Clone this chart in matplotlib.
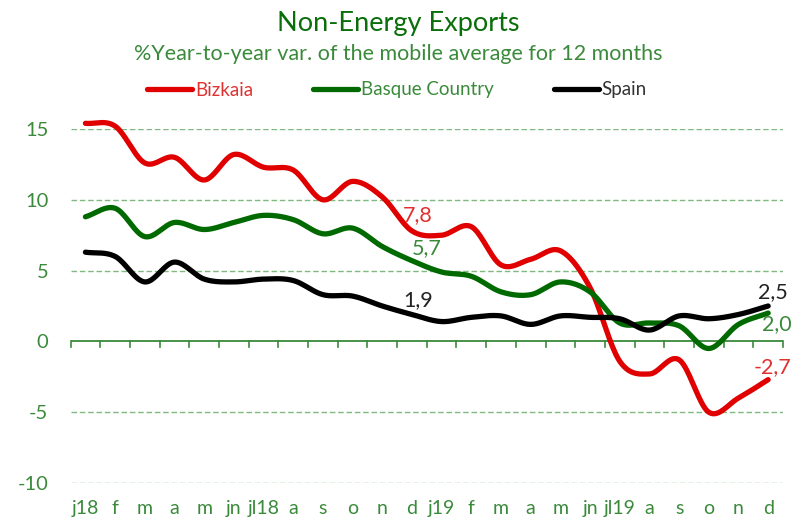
import numpy as np
import matplotlib
matplotlib.use('Agg')
import matplotlib.pyplot as plt

plt.rcParams['font.family'] = ['Lato', 'DejaVu Sans']

# Chart data
months = ['j18', 'f', 'm', 'a', 'm', 'jn', 'jl18', 'a', 's', 'o', 'n', 'd',
          'j19', 'f', 'm', 'a', 'm', 'jn', 'jl19', 'a', 's', 'o', 'n', 'd']
bizkaia = [15.4, 15.2, 12.6, 13.0, 11.4, 13.2, 12.3, 12.1, 10.0, 11.3, 10.2, 7.8,
           7.5, 8.1, 5.4, 5.8, 6.4, 3.8, -1.4, -2.3, -1.3, -5.0, -4.0, -2.7]
basque = [8.8, 9.4, 7.4, 8.4, 7.9, 8.4, 8.9, 8.6, 7.6, 8.0, 6.7, 5.7,
          4.9, 4.6, 3.5, 3.3, 4.2, 3.5, 1.3, 1.3, 1.1, -0.5, 1.2, 2.0]
spain = [6.3, 6.0, 4.2, 5.6, 4.4, 4.2, 4.4, 4.3, 3.3, 3.2, 2.5, 1.9,
         1.4, 1.7, 1.8, 1.2, 1.8, 1.7, 1.6, 0.8, 1.8, 1.6, 1.9, 2.5]

red = '#e00000'
dgreen = '#006a00'
lgreen = '#3b8a3b'


def smooth(y, n=20):
    # Catmull-Rom spline through the points (like Excel's smoothed line)
    y = np.asarray(y, dtype=float)
    x = np.arange(len(y), dtype=float)
    px = np.concatenate([[2 * x[0] - x[1]], x, [2 * x[-1] - x[-2]]])
    py = np.concatenate([[2 * y[0] - y[1]], y, [2 * y[-1] - y[-2]]])
    xs, ys = [], []
    t = np.linspace(0, 1, n, endpoint=False)
    for i in range(1, len(px) - 2):
        p0, p1, p2, p3 = py[i - 1], py[i], py[i + 1], py[i + 2]
        ys.append(0.5 * (2 * p1 + (-p0 + p2) * t + (2 * p0 - 5 * p1 + 4 * p2 - p3) * t ** 2
                         + (-p0 + 3 * p1 - 3 * p2 + p3) * t ** 3))
        xs.append(px[i] + t)
    xs.append([x[-1]])
    ys.append([y[-1]])
    return np.concatenate(xs), np.concatenate(ys)


fig = plt.figure(figsize=(7.96, 5.23), dpi=100)
ax = fig.add_axes([70.6 / 796, 40 / 523, 712.4 / 796, 354 / 523])

for vals, col, lab in [(bizkaia, red, 'Bizkaia'), (basque, dgreen, 'Basque Country'), (spain, 'black', 'Spain')]:
    sx, sy = smooth(vals)
    ax.plot(sx, sy, color=col, lw=3.8, solid_capstyle='round', label=lab, clip_on=False, zorder=3)

ax.set_xlim(-0.5, len(months) - 0.5)
ax.set_ylim(-10, 15)
ax.set_yticks([-10, -5, 0, 5, 10, 15])
ax.set_yticklabels(['-10', '-5', '0', '5', '10', '15'])
for v in [-10, -5, 5, 10, 15]:
    ax.axhline(v, color='#82b882', lw=1, ls=(0, (4, 2)), zorder=1)
ax.axhline(0, color='#3a8a3a', lw=1.3, zorder=2)

# category boundary ticks on the zero line
for b in np.arange(-0.5, len(months), 1.0):
    ax.plot([b, b], [0, -0.42], color='#3a8a3a', lw=1.2, clip_on=False, zorder=2)

for s in ax.spines.values():
    s.set_visible(False)
ax.tick_params(axis='y', length=0, pad=16, labelsize=14.5, labelcolor=lgreen)
ax.tick_params(axis='x', length=0, pad=12, labelsize=14, labelcolor=lgreen)
ax.set_xticks(range(len(months)))
ax.set_xticklabels(months)
for t in ax.get_yticklabels():
    t.set_horizontalalignment('right')

# data labels
fs = 15.5
ax.text(11.2, 8.9, '7,8', color='#e03030', fontsize=fs, ha='center', va='center')
ax.text(11.5, 6.6, '5,7', color=lgreen, fontsize=fs, ha='center', va='center')
ax.text(11.2, 2.9, '1,9', color='#222222', fontsize=fs, ha='center', va='center')
ax.text(23.15, 3.5, '2,5', color='#222222', fontsize=fs, ha='center', va='center')
ax.text(23.3, 1.2, '2,0', color=lgreen, fontsize=fs, ha='center', va='center')
ax.text(23.15, -1.8, '-2,7', color='#e03030', fontsize=fs, ha='center', va='center')

# titles
fig.text(0.5, 1 - 24 / 523, 'Non-Energy Exports', color='#0a6e0a', fontsize=19.5,
         ha='center', va='center')
fig.text(0.5, 1 - 54 / 523, '%Year-to-year var. of the mobile average for 12 months',
         color=lgreen, fontsize=15.5, ha='center', va='center')

leg = fig.legend(loc='center', bbox_to_anchor=(397 / 796, 1 - 90 / 523), ncol=3, frameon=False,
                 fontsize=13.5, handlelength=2.4, handletextpad=0.15, columnspacing=3.2)
for txt, col in zip(leg.get_texts(), ['#e03030', lgreen, '#333333']):
    txt.set_color(col)

fig.savefig('out.png', dpi=100)
